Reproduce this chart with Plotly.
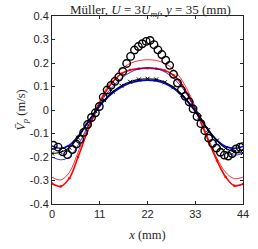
import plotly.graph_objects as go

# Experimental data (open circles)
exp_x = [0.3, 1.4, 2.5, 3.6, 4.7, 5.6, 6.4, 7.3, 8.2, 9.1, 10.0, 10.9, 11.8, 12.7, 13.6,
         14.5, 15.4, 16.3, 17.2, 18.1, 19.0, 19.9, 20.8, 21.7, 22.6, 23.5, 24.4, 25.3,
         26.2, 27.1, 28.0, 28.9, 29.8, 30.7, 31.6, 32.5, 33.4, 34.3, 35.2, 36.1, 37.0,
         37.9, 38.8, 39.7, 40.6, 41.5, 42.4, 43.3, 43.9]
exp_v = [-0.150, -0.158, -0.178, -0.190, -0.168, -0.145, -0.125, -0.095, -0.062, -0.032,
         -0.012, 0.015, 0.055, 0.085, 0.105, 0.122, 0.140, 0.164, 0.198, 0.228, 0.255,
         0.270, 0.282, 0.292, 0.296, 0.278, 0.256, 0.236, 0.212, 0.190, 0.152, 0.115,
         0.085, 0.058, 0.035, 0.005, -0.028, -0.058, -0.088, -0.120, -0.142, -0.162,
         -0.180, -0.192, -0.196, -0.185, -0.166, -0.158, -0.156]

# Model curves
model_x = [0, 2, 4, 6, 8, 10, 12, 14, 16, 18, 20, 22, 24, 26, 28, 30, 32, 34, 36, 38, 40, 42, 44]
black_x_v = [-0.185, -0.180, -0.160, -0.118, -0.060, -0.005, 0.042, 0.078, 0.103, 0.120, 0.130,
             0.133, 0.130, 0.118, 0.097, 0.065, 0.022, -0.030, -0.085, -0.130, -0.163, -0.178, -0.183]
blue_thick_v = [-0.153, -0.163, -0.150, -0.112, -0.058, -0.008, 0.038, 0.073, 0.098, 0.115, 0.124,
                0.127, 0.124, 0.113, 0.092, 0.060, 0.018, -0.032, -0.085, -0.128, -0.155, -0.163, -0.155]
blue_thin_v = [-0.200, -0.212, -0.200, -0.150, -0.078, -0.005, 0.055, 0.100, 0.135, 0.160, 0.175,
               0.180, 0.176, 0.162, 0.135, 0.095, 0.040, -0.025, -0.090, -0.145, -0.180, -0.192, -0.185]
red_thick_v = [-0.313, -0.325, -0.290, -0.200, -0.100, -0.010, 0.065, 0.120, 0.155, 0.170, 0.176,
               0.178, 0.176, 0.168, 0.148, 0.105, 0.040, -0.040, -0.130, -0.215, -0.285, -0.322, -0.315]
red_thin_v = [-0.286, -0.298, -0.265, -0.180, -0.085, 0.000, 0.075, 0.135, 0.175, 0.198, 0.210,
              0.214, 0.211, 0.198, 0.172, 0.125, 0.055, -0.030, -0.120, -0.205, -0.265, -0.292, -0.286]

x_ticks = [0, 11, 22, 33, 44]
x_tick_labels = ["0", "11", "22", "33", "44"]
y_ticks = [-0.4, -0.3, -0.2, -0.1, 0, 0.1, 0.2, 0.3, 0.4]
y_tick_labels = ["-0.4", "-0.3", "-0.2", "-0.1", "0", "0.1", "0.2", "0.3", "0.4"]

fig = go.Figure()
fig.add_trace(go.Scatter(x=model_x, y=red_thin_v, mode="lines", line=dict(color="#ff0000", width=0.8, shape="spline")))
fig.add_trace(go.Scatter(x=model_x, y=red_thick_v, mode="lines+markers", line=dict(color="#ff0000", width=1.6, shape="spline"),
                         marker=dict(symbol="circle", size=2.5, color="#ff0000")))
fig.add_trace(go.Scatter(x=model_x, y=blue_thin_v, mode="lines", line=dict(color="#0000ff", width=0.8, shape="spline")))
fig.add_trace(go.Scatter(x=model_x, y=blue_thick_v, mode="lines", line=dict(color="#0000ff", width=1.6, shape="spline")))
fig.add_trace(go.Scatter(x=model_x, y=black_x_v, mode="lines+markers", line=dict(color="#000000", width=1.2, shape="spline"),
                         marker=dict(symbol="x-thin", size=4, line=dict(color="#000000", width=1))))
fig.add_trace(go.Scatter(x=exp_x, y=exp_v, mode="markers",
                         marker=dict(symbol="circle-open", size=7.5, color="#000000", line=dict(width=1.4))))

serif = "Liberation Serif, DejaVu Serif, serif"
axis_common = dict(showline=True, mirror="ticks", linecolor="#262626", linewidth=1, ticks="inside",
                   ticklen=3, tickcolor="#262626", showgrid=False, zeroline=False,
                   tickfont=dict(family="Liberation Sans, Arial, sans-serif", size=11, color="#262626"))

fig.update_layout(
    width=258, height=249,
    margin=dict(l=52, r=9, t=16, b=36),
    paper_bgcolor="white", plot_bgcolor="white",
    showlegend=False,
    title=dict(text="Müller, <i>U</i> = 3<i>U</i><sub><i>mf</i></sub>, <i>y</i> = 35 (mm)",
               x=0.583, xanchor="center", xref="container", yref="container", y=0.962, yanchor="middle",
               font=dict(family=serif, size=13, color="#262626")),
    xaxis=dict(range=[0, 44], tickvals=x_ticks, ticktext=x_tick_labels,
               title=dict(text="<i>x</i> (mm)", standoff=11,
                          font=dict(family=serif, size=12.5, color="#262626")),
               **axis_common),
    yaxis=dict(range=[-0.4, 0.4], tickvals=y_ticks, ticktext=y_tick_labels,
               title=dict(text="<i>V̄</i><sub><i>p</i></sub> (m/s)", standoff=1,
                          font=dict(family=serif, size=12.5, color="#262626")),
               **axis_common),
)

fig.write_html("out.html", config={"displayModeBar": False})
with open("out.html", "r", encoding="utf-8") as f:
    html = f.read()
html = html.replace("<head>", "<head><style>html,body{margin:0;padding:0;overflow:hidden;}</style>", 1)
with open("out.html", "w", encoding="utf-8") as f:
    f.write(html)
